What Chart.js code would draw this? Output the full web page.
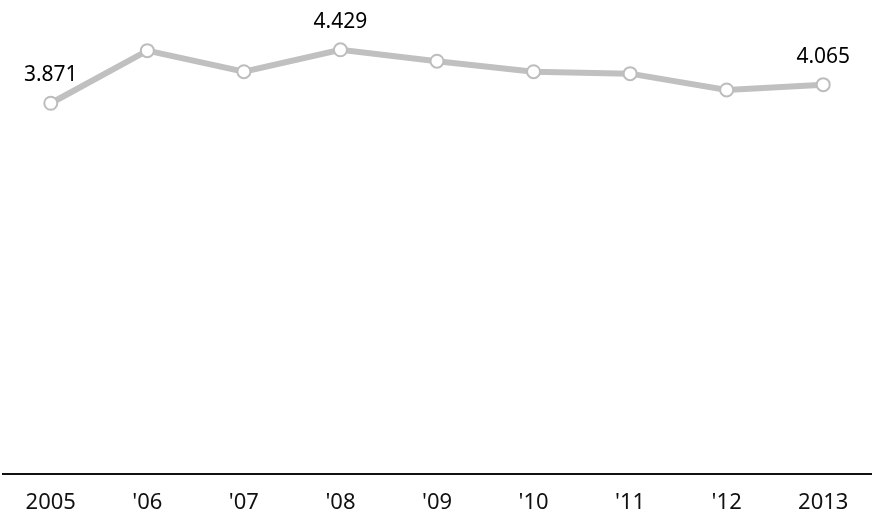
<!DOCTYPE html>
<html>
<head>
<meta charset="utf-8">
<script src="https://cdn.jsdelivr.net/npm/chart.js@4"></script>
<style>
  html, body { margin: 0; padding: 0; background: #fff; overflow: hidden; }
  canvas { display: block; margin-left: -6px; }
</style>
</head>
<body>
<canvas id="grafico" width="886" height="515"></canvas>
<script>
const years = ['2005', "'06", "'07", "'08", "'09", "'10", "'11", "'12", '2013'];
const values = [3.871, 4.42, 4.20, 4.429, 4.31, 4.20, 4.18, 4.01, 4.065];
const labeled = [0, 3, 8];

// etiquetas de valor sobre algunos puntos
const etiquetas = {
    id: 'etiquetas',
    afterDatasetsDraw(chart) {
        const ctx = chart.ctx;
        const meta = chart.getDatasetMeta(0);
        ctx.save();
        ctx.font = '21px "Noto Sans"';
        ctx.fillStyle = '#000';
        ctx.textAlign = 'center';
        ctx.textBaseline = 'middle';
        labeled.forEach(i => {
            const p = meta.data[i];
            ctx.fillText(values[i].toFixed(3), p.x, p.y - 28);
        });
        ctx.restore();
    }
};

new Chart(document.getElementById('grafico'), {
    type: 'line',
    data: {
        labels: years,
        datasets: [{
            data: values,
            borderColor: '#c0c0c0',
            borderWidth: 6,
            pointRadius: 6.5,
            pointBorderWidth: 2,
            pointBackgroundColor: '#fff',
            pointBorderColor: '#bdbdbd',
            tension: 0,
            clip: false
        }]
    },
    options: {
        responsive: false,
        animation: false,
        layout: { padding: { top: 43, left: 2, right: 3, bottom: 3 } },
        plugins: { legend: { display: false }, tooltip: { enabled: false } },
        scales: {
            x: {
                offset: true,
                grid: { display: false },
                border: { display: true, color: '#111', width: 2 },
                ticks: { color: '#111', padding: 8, font: { family: 'Noto Sans', size: 22 } },
                afterFit(scale) {
                    scale.height = 38;
                    scale.paddingLeft = 0;
                    scale.paddingRight = 0;
                }
            },
            y: {
                display: false,
                min: 0,
                max: 4.5
            }
        }
    },
    plugins: [etiquetas]
});
</script>
</body>
</html>
